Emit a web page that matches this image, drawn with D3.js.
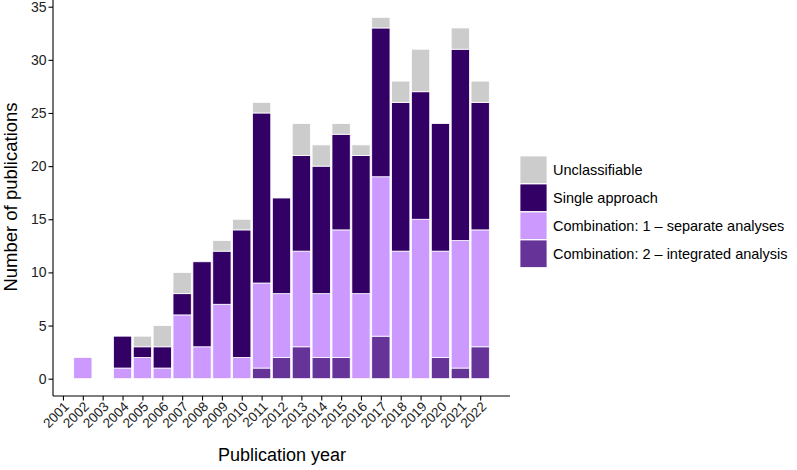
<!DOCTYPE html>
<html><head><meta charset="utf-8">
<script src="https://cdn.jsdelivr.net/npm/d3@7"></script>
<style>
body{margin:0;background:#fff;}
text{font-family:"Liberation Sans",Arial,Helvetica,sans-serif;}
</style></head>
<body><svg id="c" width="797" height="470"></svg>
<script>
const years = [2001,2002,2003,2004,2005,2006,2007,2008,2009,2010,2011,2012,2013,2014,2015,2016,2017,2018,2019,2020,2021,2022];
const combination2 = [0,0,0,0,0,0,0,0,0,0,1,2,3,2,2,0,4,0,0,2,1,3];
const combination1 = [0,2,0,1,2,1,6,3,7,2,8,6,9,6,12,8,15,12,15,10,12,11];
const singleApproach = [0,0,0,3,1,2,2,8,5,12,16,9,9,12,9,13,14,14,12,12,18,12];
const unclassifiable = [0,0,0,0,1,2,2,0,1,1,1,0,3,2,1,1,1,2,4,0,2,2];
const seriesNames = ["Combination: 2 \u2013 integrated analysis","Combination: 1 \u2013 separate analyses","Single approach","Unclassifiable"];
const seriesColors = ["#663399","#CC99FF","#330066","#CCCCCC"];
const yTicks = [0,5,10,15,20,25,30,35];

const svg = d3.select("#c");
const x = d3.scaleLinear().domain([2000.5, 2023.5]).range([53, 510]);
const y = d3.scaleLinear().domain([-1.63, 35.63]).range([396, 0]);
const step = x(2002) - x(2001);
const bw = step * 0.92;

const rows = years.map((yr,i)=>({year:yr, s0:combination2[i], s1:combination1[i], s2:singleApproach[i], s3:unclassifiable[i]}));
const stack = d3.stack().keys(["s0","s1","s2","s3"])(rows);

svg.append("g").selectAll("g").data(stack).join("g")
  .attr("fill",(d,i)=>seriesColors[i])
  .selectAll("rect").data(d=>d.filter(p=>p[1]-p[0]>0)).join("rect")
  .attr("x",d=>x(d.data.year)-bw/2)
  .attr("width",bw)
  .attr("y",d=>y(d[1]))
  .attr("height",d=>y(d[0])-y(d[1]))
  .attr("stroke","#fff").attr("stroke-width",0.8);

// axes
const yAxis = svg.append("g").attr("transform","translate(53,0)")
  .call(d3.axisLeft(y).tickValues(yTicks).tickSize(4.5).tickPadding(2));
yAxis.select(".domain").attr("d","M0,0V396").attr("stroke","#000").attr("stroke-width",1.1);
yAxis.selectAll(".tick line").attr("stroke","#000").attr("stroke-width",1.1);
yAxis.selectAll("text").attr("font-size",14).attr("fill","#222");

const xAxis = svg.append("g").attr("transform","translate(0,396)")
  .call(d3.axisBottom(x).tickValues(years).tickFormat(d3.format("d")).tickSize(4.5).tickPadding(2));
xAxis.select(".domain").attr("d","M53,0H510").attr("stroke","#000").attr("stroke-width",1.1);
xAxis.selectAll(".tick line").attr("stroke","#000").attr("stroke-width",1.1);
xAxis.selectAll("text").attr("font-size",13.5).attr("fill","#222")
  .attr("text-anchor","end").attr("dy",null).attr("y",0)
  .attr("transform","translate(6.5,11.5) rotate(-45)");

svg.append("text").attr("x",282).attr("y",461).attr("text-anchor","middle")
  .attr("font-size",18).attr("fill","#000").text("Publication year");
svg.append("text").attr("transform","translate(16.5,197) rotate(-90)").attr("text-anchor","middle")
  .attr("font-size",18.5).attr("fill","#000").text("Number of publications");

// legend
const legendOrder = [3,2,1,0];
const lg = svg.append("g");
legendOrder.forEach((si,k)=>{
  const ly = 156 + k*28;
  lg.append("rect").attr("x",520).attr("y",ly).attr("width",27).attr("height",27.5)
    .attr("fill",seriesColors[si]).attr("stroke","#fff").attr("stroke-width",0.8);
  lg.append("text").attr("x",553).attr("y",ly+14).attr("dy","0.35em")
    .attr("font-size",14.5).attr("fill","#000").text(seriesNames[si]);
});
</script></body></html>
